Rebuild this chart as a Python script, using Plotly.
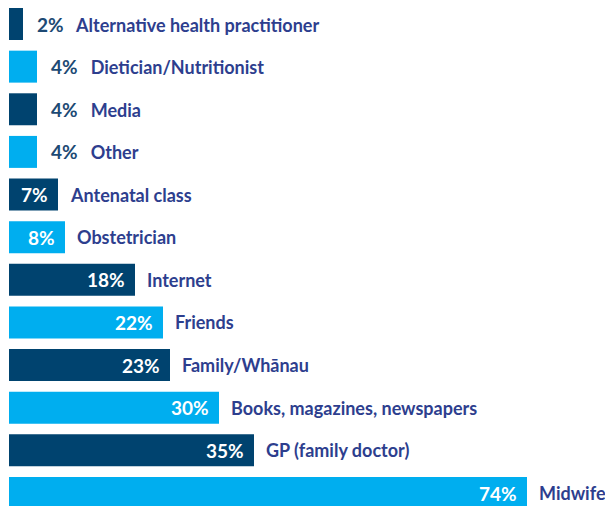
import plotly.graph_objects as go

categories = ["Alternative health practitioner", "Dietician/Nutritionist", "Media", "Other",
              "Antenatal class", "Obstetrician", "Internet", "Friends", "Family/Whānau",
              "Books, magazines, newspapers", "GP (family doctor)", "Midwife"]
values = [2, 4, 4, 4, 7, 8, 18, 22, 23, 30, 35, 74]

DARK = "#00436F"
LIGHT = "#00AEEF"
LABEL = "#2D3E8E"
PCT_OUT = "#1D4A74"
FONT = "Lato"

colors = [DARK if i % 2 == 0 else LIGHT for i in range(len(values))]
ypos = list(range(len(values)))

fig = go.Figure(go.Bar(
    x=values, y=ypos, orientation="h", marker=dict(color=colors, line=dict(width=0)),
    width=0.75, hoverinfo="skip"))

annotations = []
for i, (c, v) in enumerate(zip(categories, values)):
    if v < 5:
        annotations.append(dict(
            x=v, y=i, xref="x", yref="y", xanchor="left", yanchor="middle", xshift=12,
            showarrow=False,
            text=f"<span style='color:{PCT_OUT};font-size:19px'>{v}%</span>&nbsp;&nbsp;&nbsp;{c}",
            font=dict(family=FONT, size=18, color=LABEL, weight="bold")))
    else:
        annotations.append(dict(
            x=v, y=i, xref="x", yref="y", xanchor="right", yanchor="middle", xshift=-8,
            showarrow=False, text=f"{v}%",
            font=dict(family=FONT, size=19, color="white", weight="bold")))
        annotations.append(dict(
            x=v, y=i, xref="x", yref="y", xanchor="left", yanchor="middle", xshift=10,
            showarrow=False, text=c,
            font=dict(family=FONT, size=18, color=LABEL, weight="bold")))

fig.update_layout(
    width=605, height=506, margin=dict(l=0, r=0, t=0, b=0),
    paper_bgcolor="white", plot_bgcolor="white", showlegend=False,
    xaxis=dict(range=[-9/7, 596/7], visible=False, fixedrange=True),
    yaxis=dict(range=[11.305, -0.563], visible=False, fixedrange=True),
    annotations=annotations,
)

fig.write_html("out.html", config={"displayModeBar": False},
               post_script="document.body.style.margin='0';document.body.style.overflow='hidden';")
